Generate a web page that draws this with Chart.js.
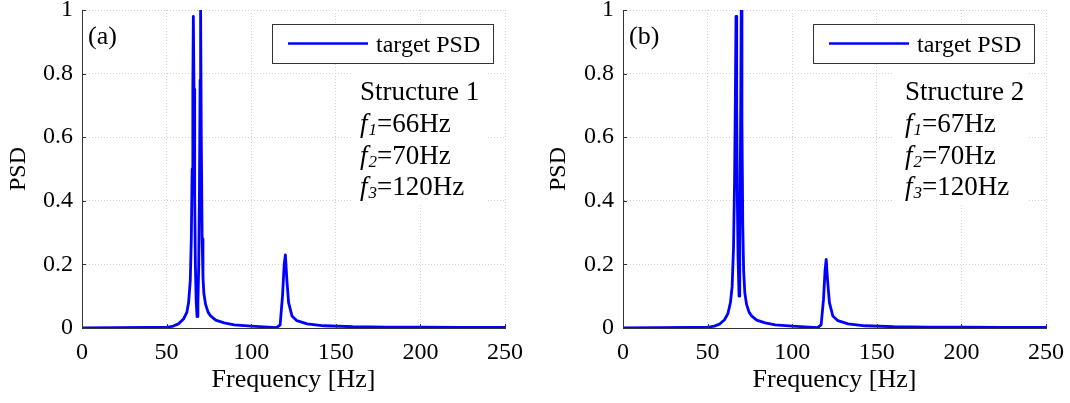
<!DOCTYPE html>
<html><head><meta charset="utf-8">
<script src="https://cdn.jsdelivr.net/npm/chart.js@4/dist/chart.umd.min.js"></script>
<style>
html,body{margin:0;padding:0;background:#fff;}
#wrap{position:relative;width:1070px;height:403px;}
.panel{position:absolute;top:0;width:535px;height:403px;}
#pa{left:0;}
#pb{left:535px;}
</style></head><body>
<div id="wrap">
<div class="panel" id="pa"><canvas id="ca"></canvas></div>
<div class="panel" id="pb"><canvas id="cb"></canvas></div>
</div>
<script>
// ---- data ----
const xTickValues = [0, 50, 100, 150, 200, 250];
const yTickValues = [0, 0.2, 0.4, 0.6, 0.8, 1];
const seriesLabel = 'target PSD';
const panelTags = ['(a)', '(b)'];
const structureNames = ['Structure 1', 'Structure 2'];
const modeFreqsA = [66, 70, 120];
const modeFreqsB = [67, 70, 120];
const xAxisTitle = 'Frequency [Hz]';
const yAxisTitle = 'PSD';

const freqA = [0, 20, 40, 50, 54, 57, 60, 62, 63, 64, 64.6, 65.1, 65.5, 65.8, 66.2, 66.6, 67.0, 67.5, 68.0, 68.5,
  69.0, 69.4, 69.8, 70.1, 70.5, 71.0, 71.5, 72.0, 73.0, 74.5, 76, 79, 84, 90, 100, 110, 115, 117.1, 118.5, 119.5,
  120.2, 121.1, 122.1, 124.1, 127, 133, 143, 160, 180, 200, 225, 250];
const psdA = [0.0005, 0.001, 0.0015, 0.002, 0.006, 0.013, 0.028, 0.05, 0.08, 0.15, 0.28, 0.5, 0.75, 0.98, 0.75, 0.42, 0.2, 0.08, 0.036, 0.08,
  0.2, 0.42, 0.78, 1.0, 0.6, 0.28, 0.16, 0.11, 0.075, 0.05, 0.038, 0.025, 0.016, 0.01, 0.006, 0.003, 0.001, 0.01, 0.1, 0.2,
  0.23, 0.15, 0.08, 0.038, 0.023, 0.013, 0.007, 0.004, 0.003, 0.003, 0.002, 0.002];

const freqB = [0, 20, 40, 50, 54, 57, 60, 62, 63.5, 64.5, 65.3, 65.9, 66.4, 66.8, 67.2, 67.6, 68.0, 68.6, 69.0, 69.4,
  69.9, 70.3, 70.8, 71.3, 72.0, 73.0, 74.5, 76, 79, 84, 90, 100, 110, 115, 117.1, 118.5, 119.4, 120.1, 120.9, 122,
  124, 127, 133, 143, 160, 180, 200, 225, 250];
const psdB = [0.0005, 0.001, 0.0015, 0.002, 0.006, 0.012, 0.026, 0.045, 0.08, 0.13, 0.25, 0.45, 0.72, 0.98, 0.7, 0.4, 0.22, 0.10, 0.25, 0.55,
  1.0, 0.65, 0.32, 0.18, 0.11, 0.075, 0.05, 0.038, 0.025, 0.016, 0.01, 0.006, 0.003, 0.001, 0.01, 0.09, 0.18, 0.216, 0.15, 0.08,
  0.038, 0.023, 0.013, 0.007, 0.004, 0.003, 0.003, 0.002, 0.002];

// ---- drawing ----
const SERIF = '"Liberation Serif", "Times New Roman", serif';

const overlayPlugin = {
  id: 'overlay',
  afterDatasetsDraw(chart, args, opts) {
    const {ctx, chartArea: a, scales: {x, y}} = chart;
    ctx.save();
    // inward tick marks
    ctx.strokeStyle = '#333';
    ctx.lineWidth = 1;
    xTickValues.forEach(v => {
      const px = Math.round(x.getPixelForValue(v)) + 0.5;
      ctx.beginPath(); ctx.moveTo(px, a.bottom); ctx.lineTo(px, a.bottom - 4); ctx.stroke();
    });
    yTickValues.forEach(v => {
      const py = Math.round(y.getPixelForValue(v)) + 0.5;
      ctx.beginPath(); ctx.moveTo(a.left, py); ctx.lineTo(a.left + 4, py); ctx.stroke();
    });
    // panel tag
    ctx.fillStyle = '#000';
    ctx.font = '26px ' + SERIF;
    ctx.textAlign = 'left';
    ctx.textBaseline = 'alphabetic';
    ctx.fillText(opts.tag, a.left + 6, a.top + 34);
    // legend
    const ds = chart.data.datasets[0];
    const lx = a.left + 190, ly = a.top + 14, lw = 221, lh = 39;
    ctx.fillStyle = '#fff';
    ctx.fillRect(lx, ly, lw, lh);
    ctx.strokeStyle = '#333';
    ctx.lineWidth = 1;
    ctx.strokeRect(lx + 0.5, ly + 0.5, lw, lh);
    ctx.strokeStyle = ds.borderColor;
    ctx.lineWidth = 2.5;
    ctx.beginPath(); ctx.moveTo(lx + 16, ly + 19.5); ctx.lineTo(lx + 96, ly + 19.5); ctx.stroke();
    ctx.fillStyle = '#000';
    ctx.font = '24px ' + SERIF;
    ctx.fillText(ds.label, lx + 104, ly + 28);
    // annotation block
    ctx.fillStyle = '#fff';
    ctx.fillRect(a.left + 270, a.top + 54, 135, 141);
    ctx.fillStyle = '#000';
    const tx = a.left + opts.dx;
    ctx.font = '27px ' + SERIF;
    ctx.fillText(opts.name, tx, a.top + 90);
    opts.modes.forEach((f, i) => {
      const by = a.top + 122 + i * 31.5;
      ctx.font = 'italic 27px ' + SERIF;
      ctx.fillText('f', tx, by);
      let cx = tx + ctx.measureText('f').width + 1;
      ctx.font = 'italic 17px ' + SERIF;
      ctx.fillText(String(i + 1), cx, by + 3);
      cx += ctx.measureText(String(i + 1)).width;
      ctx.font = '27px ' + SERIF;
      ctx.fillText('=' + f + 'Hz', cx, by);
    });
    ctx.restore();
  }
};

function makeChart(id, freq, psd, tag, name, modes, dx, yTitlePad, padLeft, padRight, yWidth) {
  const pts = freq.map((f, i) => ({x: f, y: psd[i]}));
  return new Chart(document.getElementById(id), {
    type: 'line',
    data: {datasets: [{
      label: seriesLabel, data: pts,
      borderColor: '#0000ff', borderWidth: 2.8, borderJoinStyle: 'round', borderCapStyle: 'round',
      pointRadius: 0, tension: 0, fill: false
    }]},
    options: {
      responsive: true, maintainAspectRatio: false, animation: false,
      layout: {padding: {left: padLeft, right: padRight, top: 10, bottom: 0}},
      plugins: {
        legend: {display: false}, tooltip: {enabled: false},
        overlay: {tag, name, modes, dx}
      },
      scales: {
        x: {
          type: 'linear', min: 0, max: 250,
          afterBuildTicks: s => { s.ticks = xTickValues.map(v => ({value: v})); },
          afterFit: s => { s.height = 75; s.paddingLeft = 0; s.paddingRight = 0; },
          grid: {color: '#d2d2d2', lineWidth: 1, drawTicks: false},
          border: {display: true, color: '#333', width: 1, dash: [1, 2]},
          ticks: {color: '#000', font: {family: SERIF, size: 24}, padding: 10, maxRotation: 0,
                  callback: v => String(v)},
          title: {display: true, text: xAxisTitle, color: '#000', font: {family: SERIF, size: 26},
                  padding: {top: 0, bottom: 7}}
        },
        y: {
          type: 'linear', min: 0, max: 1,
          afterBuildTicks: s => { s.ticks = yTickValues.map(v => ({value: v})); },
          afterFit: s => { s.width = yWidth; s.paddingTop = 0; s.paddingBottom = 0; },
          grid: {color: '#d2d2d2', lineWidth: 1, drawTicks: false},
          border: {display: true, color: '#333', width: 1, dash: [1, 2]},
          ticks: {color: '#000', font: {family: SERIF, size: 24}, padding: 9,
                  callback: v => String(v)},
          title: {display: true, text: yAxisTitle, color: '#000', font: {family: SERIF, size: 24},
                  padding: {top: yTitlePad, bottom: 0}}
        }
      }
    },
    plugins: [overlayPlugin]
  });
}

makeChart('ca', freqA, psdA, panelTags[0], structureNames[0], modeFreqsA, 278, 4, 0, 30, 82);
makeChart('cb', freqB, psdB, panelTags[1], structureNames[1], modeFreqsB, 282, 9, 0, 24, 88);
</script>
</body></html>
